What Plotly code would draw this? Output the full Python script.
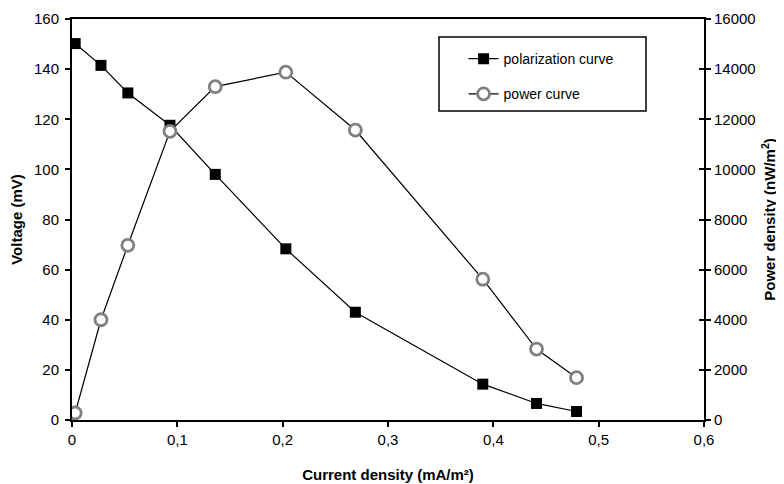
import plotly.graph_objects as go

current = [0.003, 0.0275, 0.053, 0.093, 0.136, 0.203, 0.269, 0.390, 0.441, 0.479]
voltage = [150.2, 141.5, 130.5, 117.6, 98.0, 68.3, 43.0, 14.3, 6.6, 3.4]
power = [280, 4000, 6970, 11520, 13300, 13880, 11570, 5620, 2830, 1690]

x_ticks = [0, 0.1, 0.2, 0.3, 0.4, 0.5, 0.6]
v_ticks = [0, 20, 40, 60, 80, 100, 120, 140, 160]
p_ticks = [0, 2000, 4000, 6000, 8000, 10000, 12000, 14000, 16000]

FONT = "Liberation Sans, Arial, sans-serif"

fig = go.Figure()
fig.add_trace(go.Scatter(
    x=current, y=voltage, name="polarization curve", mode="lines+markers",
    line=dict(color="black", width=1.2),
    marker=dict(symbol="square", size=11, color="black"),
    legendgroup="a", yaxis="y"))
fig.add_trace(go.Scatter(
    x=current, y=power, name="power curve", mode="lines+markers",
    line=dict(color="black", width=1.2),
    marker=dict(symbol="circle", size=12, color="white",
                line=dict(color="#808080", width=2.8)),
    legendgroup="b", yaxis="y2"))
# empty helper trace so the inner tick axis on the right is drawn
fig.add_trace(go.Scatter(x=[], y=[], yaxis="y3", showlegend=False, hoverinfo="skip"))

axis_font = dict(family=FONT, size=15, color="black")
title_font = dict(family=FONT, size=15, color="black", weight="bold")

# page body has an 8px offset, so figure is 776x476 and margins are shifted
fig.update_layout(
    width=776, height=476,
    margin=dict(l=64, r=80, t=11, b=64),
    paper_bgcolor="white", plot_bgcolor="white",
    separators=",.",
    font=dict(family=FONT, size=15, color="black"),
    xaxis=dict(range=[0, 0.6], tickvals=x_ticks, showgrid=False, zeroline=False,
               showline=True, linecolor="black", linewidth=2, mirror=True,
               ticks="outside", ticklen=5, tickcolor="black", tickwidth=1.5,
               tickfont=axis_font, automargin=False,
               title=dict(text="Current density (mA/m²)", font=title_font, standoff=22)),
    yaxis=dict(range=[0, 160], tickvals=v_ticks, showgrid=False, zeroline=False,
               showline=True, linecolor="black", linewidth=2,
               ticks="outside", ticklen=5, tickcolor="black", tickwidth=1.5,
               tickfont=axis_font, automargin=False, ticklabelstandoff=3,
               title=dict(text="Voltage (mV)", font=title_font, standoff=10)),
    yaxis2=dict(range=[0, 16000], tickvals=p_ticks, tickformat="d",
                overlaying="y", side="right",
                showgrid=False, zeroline=False,
                showline=True, linecolor="black", linewidth=2,
                ticks="outside", ticklen=5, tickcolor="black", tickwidth=1.5,
                tickfont=axis_font, automargin=False,
                title=dict(text="Power density (nW/m<sup>2</sup>)", font=title_font, standoff=10)),
    yaxis3=dict(range=[0, 16000], tickvals=p_ticks, overlaying="y", side="right",
                showgrid=False, zeroline=False, showline=False,
                showticklabels=False, automargin=False,
                ticks="inside", ticklen=5, tickcolor="black", tickwidth=1.5),
    showlegend=True,
    legend=dict(x=0.6196, y=0.940, xanchor="left", yanchor="top",
                bgcolor="rgba(0,0,0,0)", borderwidth=0,
                font=dict(family=FONT, size=14, color="black"),
                traceorder="grouped", tracegroupgap=14, itemwidth=30),
    shapes=[dict(type="rect", xref="paper", yref="paper",
                 x0=(439 - 72) / 632, x1=(646 - 72) / 632,
                 y0=(420 - 111) / 401, y1=(420 - 37) / 401,
                 line=dict(color="black", width=1.5), fillcolor="rgba(0,0,0,0)")],
)

fig.write_html("out.html")
